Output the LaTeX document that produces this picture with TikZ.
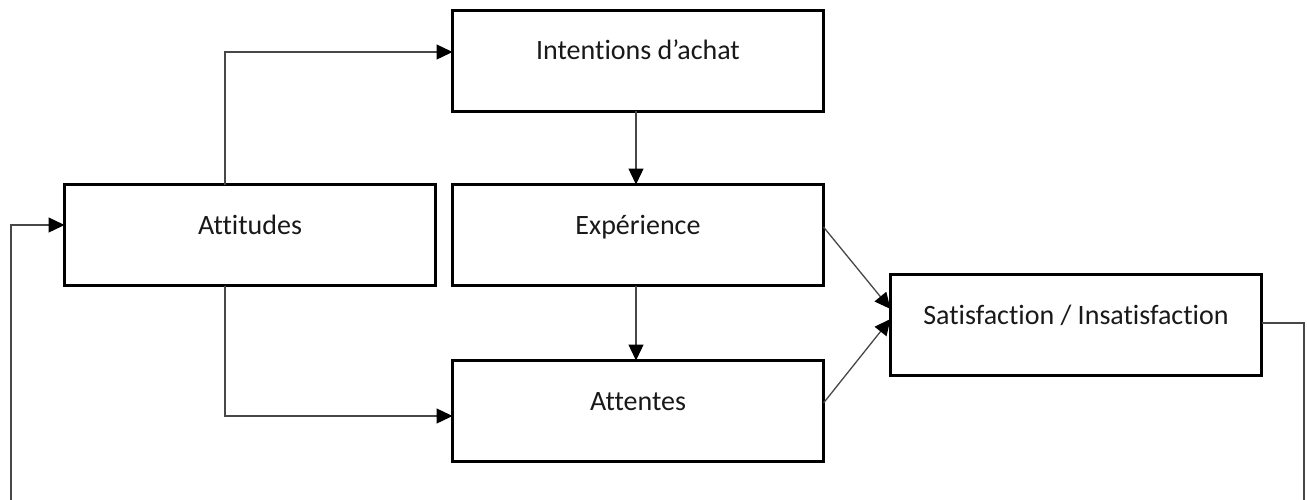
\documentclass[tikz,border=0pt]{standalone}
\usepackage{fontspec}
\setmainfont{Carlito}[Ligatures=NoCommon]
\usetikzlibrary{arrows.meta,calc}

\tikzset{
  box/.style={draw=black, line width=3pt, fill=white, rectangle,
    minimum width=371pt, minimum height=101pt, inner sep=0pt, outer sep=0pt,
    font=\fontsize{28}{33}\selectfont, text=black!90,
    text height=20pt, text depth=22pt},
  conn/.style={draw=black!72, line width=1.3pt,
    -{Triangle[length=16pt,width=15pt,color=black]}},
}

\begin{document}
\begin{tikzpicture}[x=1pt,y=-1pt]
  % frame of the drawing; the feedback loop runs just below it
  \clip (0,0) rectangle (1307,499);
  \fill[white] (0,0) rectangle (1307,499);

  % boxes
  \node[box] (int) at (638,60.5) {Intentions d’achat};
  \node[box] (att) at (250,235)  {Attitudes};
  \node[box] (exp) at (638,235)  {Expérience};
  \node[box] (ten) at (638,411)  {Attentes};
  \node[box] (sat) at (1076,325) {Satisfaction / Insatisfaction};

  % turning points of the feedback loop
  \coordinate (fbR) at (1304,512);
  \coordinate (fbL) at (11,512);

  % connectors
  \draw[conn] ([xshift=-25pt]att.north) |- ([yshift=8.5pt]int.west);
  \draw[conn] ([xshift=-25pt]att.south) |- ([yshift=-5pt]ten.west);
  \draw[conn] ([xshift=-2pt]int.south) -- ([xshift=-2pt]exp.north);
  \draw[conn] ([xshift=-2pt]exp.south) -- ([xshift=-2pt]ten.north);
  \draw[conn] ([yshift=8pt]exp.east) -- ([yshift=16pt]sat.west);
  \draw[conn] ([yshift=8pt]ten.east) -- ([yshift=6pt]sat.west);
  \draw[conn] ([yshift=2pt]sat.east) -| (fbR) -- (fbL) |- ([yshift=10pt]att.west);
\end{tikzpicture}
\end{document}
